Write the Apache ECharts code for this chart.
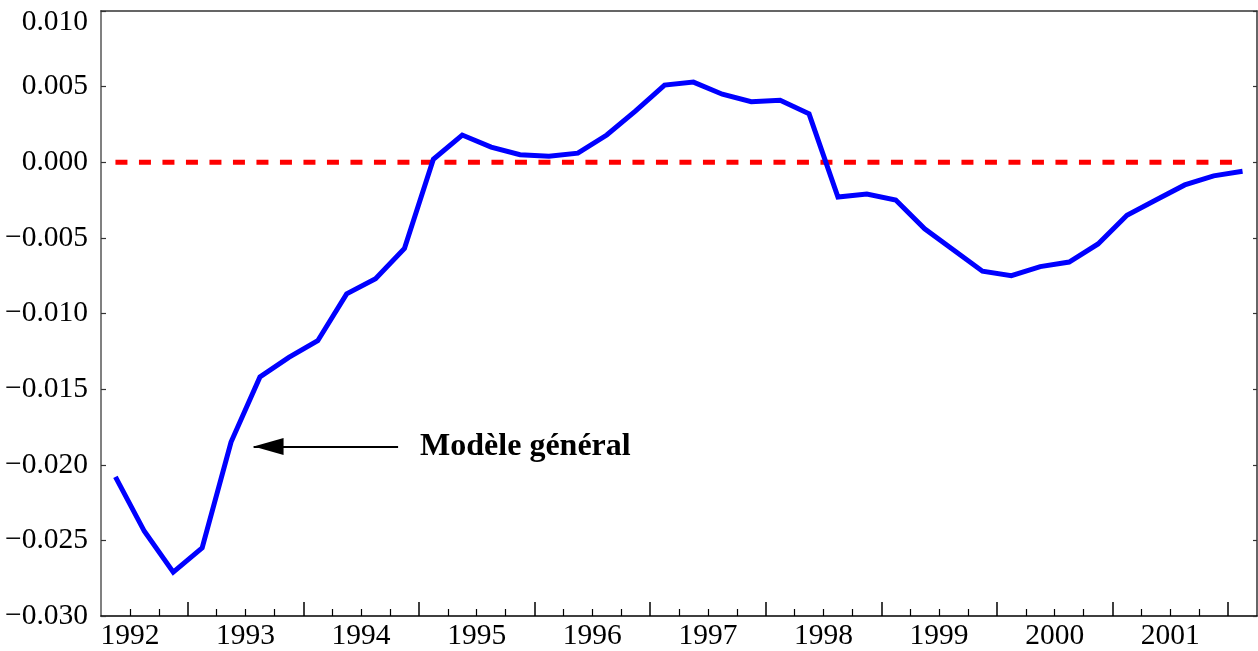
<!DOCTYPE html>
<html>
<head>
<meta charset="utf-8">
<script src="https://cdn.jsdelivr.net/npm/echarts@6/dist/echarts.min.js"></script>
<style>
    html, body { margin: 0; padding: 0; background: #fff; }
    #chart { width: 1258px; height: 651px; }
</style>
</head>
<body>
<div id="chart"></div>
<script>
// trimestres observés (année, trimestre)
const periods = [
    '1991T4',
    '1992T1', '1992T2', '1992T3', '1992T4',
    '1993T1', '1993T2', '1993T3', '1993T4',
    '1994T1', '1994T2', '1994T3', '1994T4',
    '1995T1', '1995T2', '1995T3', '1995T4',
    '1996T1', '1996T2', '1996T3', '1996T4',
    '1997T1', '1997T2', '1997T3', '1997T4',
    '1998T1', '1998T2', '1998T3', '1998T4',
    '1999T1', '1999T2', '1999T3', '1999T4',
    '2000T1', '2000T2', '2000T3', '2000T4',
    '2001T1', '2001T2', '2001T3'
];
// modèle général
const values = [
    -0.0208,
    -0.0244, -0.0271, -0.0255, -0.0185,
    -0.0142, -0.0129, -0.0118, -0.0087,
    -0.0077, -0.0057, 0.0002, 0.0018,
    0.0010, 0.0005, 0.0004, 0.0006,
    0.0018, 0.0034, 0.0051, 0.0053,
    0.0045, 0.0040, 0.0041, 0.0032,
    -0.0023, -0.0021, -0.0025, -0.0044,
    -0.0058, -0.0072, -0.0075, -0.0069,
    -0.0066, -0.0054, -0.0035, -0.0025,
    -0.0015, -0.0009, -0.0006
];
const yearLabels = [1992, 1993, 1994, 1995, 1996, 1997, 1998, 1999, 2000, 2001];
const majorTicks = [1992.5, 1993.5, 1994.5, 1995.5, 1996.5, 1997.5, 1998.5, 1999.5, 2000.5, 2001.5];
const minorTicks = [
    1992, 1992.25, 1992.75, 1993, 1993.25, 1993.75, 1994, 1994.25, 1994.75,
    1995, 1995.25, 1995.75, 1996, 1996.25, 1996.75, 1997, 1997.25, 1997.75,
    1998, 1998.25, 1998.75, 1999, 1999.25, 1999.75, 2000, 2000.25, 2000.75,
    2001, 2001.25
];
// flèche d'annotation : [queue, pointe]
const arrowFrom = [1994.32, -0.0188];
const arrowTo = [1993.07, -0.0188];
const annotation = 'Modèle général';

// '1992T3' -> milieu du trimestre
function periodToX(p) {
    let year = parseInt(p.slice(0, 4));
    let q = parseInt(p.slice(5));
    return year + (q - 0.5) / 4;
}

const FONT = "'Liberation Serif', 'Times New Roman', serif";
const xMin = 1991.75, xMax = 2001.75;
const yMin = -0.03, yMax = 0.01;

let chart = echarts.init(document.getElementById('chart'));
let lineData = periods.map(function (p, i) { return [periodToX(p), values[i]]; });
let zeroData = [[periodToX(periods[0]), 0], [periodToX(periods[periods.length - 1]), 0]];

let option = {
    animation: false,
    backgroundColor: '#fff',
    grid: [
        {left: 101, top: 11, width: 1156, height: 605},
        {left: 101, top: 11, width: 1156, height: 605}
    ],
    xAxis: [
        {
            type: 'value', gridIndex: 0, position: 'bottom',
            min: xMin, max: xMax,
            splitLine: {show: false},
            axisLine: {show: true, onZero: false, lineStyle: {color: '#000', width: 1.5}},
            axisTick: {show: true, inside: true, length: 14, customValues: majorTicks,
                lineStyle: {color: '#000', width: 1.5}},
            axisLabel: {customValues: yearLabels, margin: 5, color: '#000',
                fontFamily: FONT, fontSize: 29.5,
                formatter: function (v) { return String(Math.round(v)); }}
        },
        {
            // petites graduations trimestrielles
            type: 'value', gridIndex: 1, position: 'bottom',
            min: xMin, max: xMax,
            splitLine: {show: false},
            axisLine: {show: false, onZero: false},
            axisTick: {show: true, inside: true, length: 7, customValues: minorTicks,
                lineStyle: {color: '#000', width: 1.2}},
            axisLabel: {show: false}
        },
        {
            // bord supérieur
            type: 'value', gridIndex: 1, position: 'top',
            min: xMin, max: xMax,
            splitLine: {show: false},
            axisLine: {show: true, onZero: false, lineStyle: {color: '#333', width: 1.5}},
            axisTick: {show: false},
            axisLabel: {show: false}
        }
    ],
    yAxis: [
        {
            type: 'value', gridIndex: 0, position: 'left',
            min: yMin, max: yMax, interval: 0.005,
            splitLine: {show: false},
            axisLine: {show: true, onZero: false, lineStyle: {color: '#808080', width: 2}},
            axisTick: {show: true, inside: true, length: 5, lineStyle: {color: '#333', width: 1.2}},
            axisLabel: {
                margin: 13, color: '#000', fontFamily: FONT, fontSize: 29.5,
                formatter: function (v) {
                    let s = Math.abs(v) < 1e-9 ? '0.000' : v.toFixed(3).replace('-', '\u2212');
                    // l'étiquette du haut est descendue pour rester dans le cadre
                    if (Math.abs(v - yMax) < 1e-9) return '{top|' + s + '}';
                    return s;
                },
                rich: {
                    top: {padding: [22, 0, 0, 0], fontFamily: FONT, fontSize: 29.5, color: '#000'}
                }
            }
        },
        {
            type: 'value', gridIndex: 1, position: 'right',
            min: yMin, max: yMax, interval: 0.005,
            splitLine: {show: false},
            axisLine: {show: true, onZero: false, lineStyle: {color: '#333', width: 1.5}},
            axisTick: {show: true, inside: true, length: 4, lineStyle: {color: '#333', width: 1.2}},
            axisLabel: {show: false}
        }
    ],
    series: [
        {
            name: 'zéro',
            type: 'line',
            xAxisIndex: 0, yAxisIndex: 0,
            symbol: 'none',
            silent: true,
            lineStyle: {color: '#ff0000', width: 5, type: [12, 11.5]},
            data: zeroData,
            z: 2
        },
        {
            name: annotation,
            type: 'line',
            xAxisIndex: 0, yAxisIndex: 0,
            symbol: 'none',
            lineStyle: {color: '#0000ff', width: 5, join: 'miter'},
            data: lineData,
            z: 3,
            markLine: {
                silent: true,
                symbol: ['none', 'triangle'],
                symbolSize: [17, 30],
                symbolOffset: [0, [0, 15]],
                lineStyle: {color: '#000', width: 2, type: 'solid'},
                itemStyle: {color: '#000'},
                label: {
                    show: true, position: 'start', distance: 22,
                    formatter: annotation,
                    color: '#000', fontFamily: FONT, fontSize: 32, fontWeight: 'bold'
                },
                data: [[{coord: arrowFrom}, {coord: arrowTo}]]
            }
        }
    ]
};
chart.setOption(option);
</script>
</body>
</html>
